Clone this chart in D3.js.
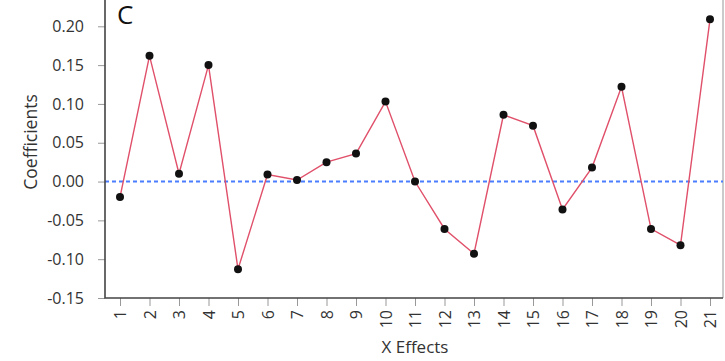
<!DOCTYPE html>
<html>
<head>
<meta charset="utf-8">
<script src="https://cdn.jsdelivr.net/npm/d3@7"></script>
<style>
  html, body { margin: 0; padding: 0; background: #fff; }
  svg { display: block; font-family: "Open Sans", sans-serif; }
</style>
</head>
<body>
<svg id="chart" width="725" height="361"></svg>
<script>
// Effect indices along the x axis
const effects = d3.range(1, 22);
// Estimated coefficient for each effect
const coefficients = [
  -0.020, 0.162, 0.010, 0.150, -0.113, 0.009, 0.002, 0.025, 0.036, 0.103,
  0.000, -0.061, -0.093, 0.086, 0.072, -0.036, 0.018, 0.122, -0.061, -0.082, 0.209
];
// Y tick values
const yTicks = [-0.15, -0.10, -0.05, 0.00, 0.05, 0.10, 0.15, 0.20];
const panelLabel = "C";
const xTitle = "X Effects";
const yTitle = "Coefficients";

const svg = d3.select("#chart");
const plotLeft = 105, plotRight = 723, plotBottom = 298, plotTop = -2;

const x = d3.scaleLinear().domain([1, 21]).range([120, 710]);
const y = d3.scaleLinear().domain([-0.15, 0.20]).range([plotBottom, 26.3]);

// Frame: light right edge
svg.append("line")
  .attr("x1", plotRight).attr("x2", plotRight).attr("y1", plotTop).attr("y2", plotBottom)
  .attr("stroke", "#b8b8b8").attr("stroke-width", 1.5);

// Zero reference line
svg.append("line")
  .attr("x1", plotLeft).attr("x2", plotRight)
  .attr("y1", y(0)).attr("y2", y(0))
  .attr("stroke", "#4a7dff").attr("stroke-width", 1.9)
  .attr("stroke-dasharray", "4,3");

// Y axis
const yAxis = svg.append("g")
  .attr("transform", `translate(${plotLeft},0)`)
  .call(d3.axisLeft(y).tickValues(yTicks).tickSize(7).tickPadding(14));
yAxis.select(".domain").remove();
yAxis.selectAll(".tick line").attr("stroke", "#999").attr("stroke-width", 1);
yAxis.selectAll(".tick text")
  .attr("fill", "#333").style("font-size", "16px")
  .style("font-family", "'Open Sans', sans-serif")
  .text(d => d3.format(".2f")(d).replace("\u2212", "-"));

// X axis
const xAxis = svg.append("g")
  .attr("transform", `translate(0,${plotBottom})`)
  .call(d3.axisBottom(x).tickValues(effects).tickFormat(d3.format("d")).tickSize(8));
xAxis.select(".domain").remove();
xAxis.selectAll(".tick line").attr("stroke", "#999").attr("stroke-width", 1);
xAxis.selectAll(".tick text")
  .attr("fill", "#333").style("font-size", "16px")
  .style("font-family", "'Open Sans', sans-serif")
  .attr("transform", "rotate(-90)")
  .attr("text-anchor", "end")
  .attr("dy", "0.35em")
  .attr("x", -12)
  .attr("y", 0);

// Left and bottom axis lines
svg.append("path")
  .attr("d", `M${plotLeft},${plotTop}V${plotBottom}H${plotRight}`)
  .attr("fill", "none").attr("stroke", "#444").attr("stroke-width", 1.6);

// Coefficient line
const line = d3.line().x((d, i) => x(effects[i])).y(d => y(d));
svg.append("path")
  .datum(coefficients)
  .attr("d", line)
  .attr("fill", "none")
  .attr("stroke", "#e0506a")
  .attr("stroke-width", 1.4);

// Points
svg.selectAll("circle.pt")
  .data(coefficients)
  .join("circle")
  .attr("class", "pt")
  .attr("cx", (d, i) => x(effects[i]))
  .attr("cy", d => y(d))
  .attr("r", 4)
  .attr("fill", "#111");

// Panel label
svg.append("text")
  .attr("x", 117).attr("y", 23.5)
  .attr("fill", "#111")
  .style("font-size", "26px")
  .text(panelLabel);

// Axis titles
svg.append("text")
  .attr("x", 415).attr("y", 353)
  .attr("text-anchor", "middle")
  .attr("fill", "#333")
  .style("font-size", "17px")
  .text(xTitle);

svg.append("text")
  .attr("transform", "translate(37,142) rotate(-90)")
  .attr("text-anchor", "middle")
  .attr("fill", "#333")
  .style("font-size", "17.5px")
  .text(yTitle);
</script>
</body>
</html>
